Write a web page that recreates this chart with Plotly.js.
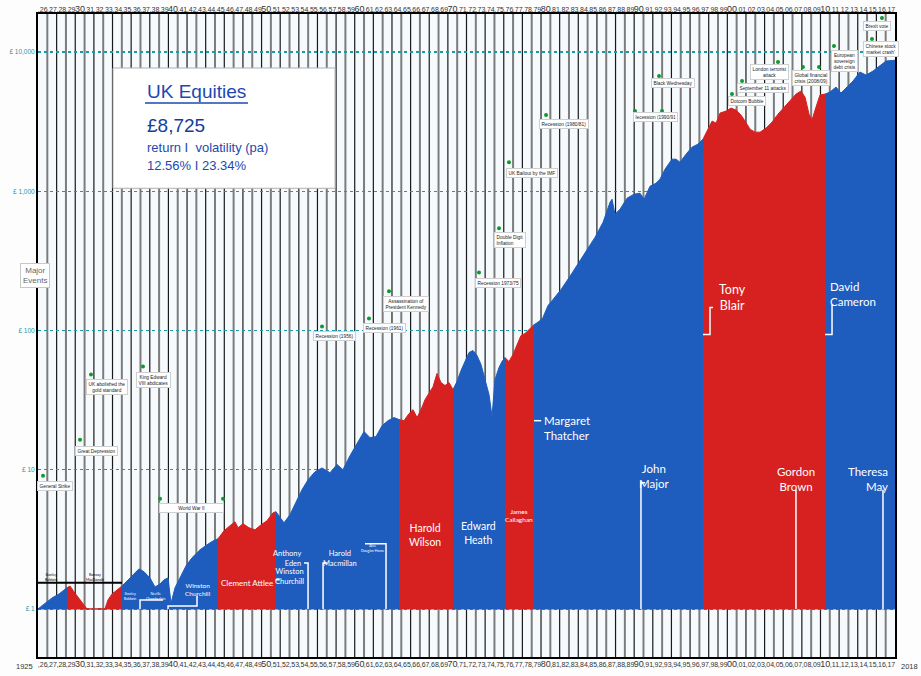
<!DOCTYPE html>
<html>
<head>
<meta charset="utf-8">
<script src="https://cdn.plot.ly/plotly-3.0.1.min.js"></script>
<style>
  html, body { margin: 0; padding: 0; background: #fdfdfd; }
  #chart { width: 921px; height: 676px; }
</style>
</head>
<body>
<div id="chart"></div>
<script>
// £1 invested in UK equities (year, value in £)
const years = [
  1926.00, 1926.75, 1927.50, 1928.25, 1929.11, 1929.44, 1929.86, 1930.29, 1930.83, 1931.26,
  1933.19, 1933.51, 1933.94, 1934.37, 1934.70, 1935.02, 1935.66, 1936.31, 1936.84, 1937.38,
  1938.02, 1938.56, 1939.10, 1939.53, 1939.96, 1940.28, 1940.71, 1941.24, 1941.89, 1942.53,
  1943.39, 1944.14, 1944.79, 1945.32, 1945.97, 1946.61, 1947.15, 1947.47, 1948.01, 1948.65,
  1949.30, 1949.94, 1950.58, 1951.23, 1951.55, 1951.98, 1952.41, 1953.05, 1953.70, 1954.34,
  1954.99, 1955.74, 1956.49, 1957.35, 1958.10, 1958.74, 1959.49, 1960.25, 1961.00, 1961.64,
  1962.29, 1962.93, 1963.57, 1964.22, 1964.76, 1965.29, 1965.83, 1966.26, 1966.69, 1967.12,
  1967.55, 1967.98, 1968.41, 1968.83, 1969.26, 1969.69, 1970.12, 1970.55, 1970.98, 1971.41,
  1971.84, 1972.27, 1972.70, 1973.13, 1973.56, 1973.99, 1974.42, 1974.74, 1975.06, 1975.49,
  1975.81, 1976.13, 1976.56, 1976.99, 1977.42, 1977.85, 1978.28, 1978.82, 1979.25, 1979.78,
  1980.21, 1980.75, 1981.29, 1982.15, 1983.11, 1983.97, 1984.94, 1985.80, 1986.66, 1987.41,
  1987.62, 1987.94, 1988.48, 1989.23, 1989.98, 1990.63, 1991.06, 1991.70, 1992.34, 1992.77,
  1993.31, 1994.06, 1994.49, 1994.92, 1995.57, 1996.21, 1996.85, 1997.39, 1997.93, 1998.36,
  1998.79, 1999.22, 1999.86, 2000.40, 2000.93, 2001.47, 2001.90, 2002.44, 2002.97, 2003.51,
  2004.15, 2004.80, 2005.44, 2006.09, 2006.73, 2007.37, 2007.91, 2008.34, 2008.77, 2009.09,
  2009.52, 2009.95, 2010.49, 2011.02, 2011.67, 2012.20, 2012.85, 2013.49, 2014.24, 2014.89,
  2015.64, 2016.28, 2017.04, 2018.00
];
const values = [
  1.00, 1.10, 1.20, 1.28, 1.42, 1.46, 1.33, 1.22, 1.09, 1.00,
  1.00, 1.16, 1.28, 1.35, 1.39, 1.46, 1.62, 1.79, 1.94, 1.85,
  1.67, 1.44, 1.51, 1.62, 1.67, 1.10, 1.42, 1.67, 2.04, 2.33,
  2.66, 2.89, 3.08, 3.19, 3.64, 3.96, 4.23, 3.83, 4.09, 3.83,
  3.70, 4.02, 4.30, 4.91, 4.99, 4.52, 4.16, 4.75, 5.79, 7.18,
  8.47, 9.67, 10.3, 9.51, 10.9, 10.0, 12.6, 15.6, 18.8, 17.0,
  17.3, 20.7, 22.5, 23.7, 22.9, 22.5, 25.3, 27.0, 23.7, 27.0,
  31.9, 35.8, 39.5, 49.1, 42.3, 40.2, 42.3, 37.6, 43.0, 51.6,
  59.8, 69.5, 71.8, 66.1, 56.9, 44.4, 34.6, 24.1, 44.4, 54.2,
  59.8, 63.9, 59.8, 67.2, 79.3, 92.0, 95.1, 103, 110, 116,
  124, 151, 167, 197, 245, 303, 383, 467, 598, 834,
  876, 683, 742, 891, 952, 968, 876, 1086, 1142, 1220,
  1439, 1699, 1699, 1617, 1846, 2073, 2179, 2366, 2793, 3190,
  3085, 3642, 3764, 3955, 3828, 3524, 3190, 2793, 2656, 2656,
  2838, 3133, 3580, 4020, 4437, 4984, 5240, 4742, 3580, 3243,
  4020, 4910, 4984, 5156, 5600, 5070, 5600, 6183, 7180, 6833,
  7295, 7929, 8614, 8725
];

// governing party periods
const termStarts = [1926, 1929.11, 1935.02, 1945.32, 1951.55, 1964.76, 1970.55, 1976.13, 1979.25, 1997.39, 2010.49];
const termEnds   = [1929.11, 1935.02, 1945.32, 1951.55, 1964.76, 1970.55, 1976.13, 1979.25, 1997.39, 2010.49, 2018];
const termParty  = ['con', 'lab', 'con', 'lab', 'con', 'lab', 'con', 'lab', 'con', 'lab', 'con'];
const partyColour = { con: '#1e5cbd', lab: '#d72020' };

// major events and their dates
const eventLabels = [
  'General Strike', 'Great Depression', 'UK abolished the<br>gold standard', 'King Edward<br>VIII abdicates',
  'World War II', 'Recession (1956)', 'Recession (1961)', 'Assassination of<br>President Kennedy',
  'Recession 1973/75', 'Double Digit<br>Inflation', 'UK Bailout by the IMF', 'Recession (1980/81)',
  'Recession (1990/91)', 'Black Wednesday', 'Dotcom Bubble', 'September 11 attacks',
  'London terrorist<br>attack', 'Global financial<br>crisis (2008/09)', 'European<br>sovereign<br>debt crisis',
  'Chinese stock<br>market crash\'', 'Brexit vote'
];
const eventDates = [
  [1926.54], [1930.51], [1931.69], [1937.27], [1939.10, 1945.86], [1956.49], [1961.53], [1963.68],
  [1973.34], [1975.49], [1976.56], [1980.54], [1990.09, 1992.99], [1992.67], [2000.50], [2001.58],
  [2005.44], [2008.12, 2009.84], [2011.45], [2015.53], [2016.60]
];
// where each event marker and its label box sit on the chart
const eventDotLevel = [9.06, 16.4, 48.2, 55.1, 6.19, 107, 122, 191, 261, 542, 1617, 3524, 3764, 6716, 4988, 6183, 8473, 7803, 11045, 12406, 17573];
const eventBoxAt = [
  [1927.83, 7.67], [1932.23, 13.7], [1933.41, 39.5], [1938.45, 44.4], [1942.53, 5.33], [1957.88, 92.0],
  [1963.25, 105], [1965.51, 154], [1975.38, 221], [1976.67, 444], [1979.03, 1347], [1982.47, 3033],
  [1992.34, 3406], [1994.17, 5982], [2002.11, 4437], [2003.83, 5509], [2004.48, 7180], [2008.98, 6502],
  [2012.63, 8614], [2016.50, 10515], [2016.07, 15380]
];

// prime minister labels (text, year, level, font size, anchor, colour)
const pmLabels = [
  ['Stanley<br>Baldwin', 1927.40, 1.67, 3.5, 'center', '#000'],
  ['Ramsay<br>MacDonald', 1932.12, 1.67, 3.5, 'center', '#000'],
  ['Stanley<br>Baldwin', 1935.88, 1.22, 3.5, 'center', '#fff'],
  ['Neville<br>Chamberlain', 1938.56, 1.22, 3.5, 'center', '#fff'],
  ['Winston<br>Churchill', 1943.18, 1.37, 6.5, 'center', '#fff'],
  ['Clement Attlee', 1948.44, 1.54, 8, 'center', '#fff'],
  ['Winston<br>Churchill', 1953.05, 1.70, 7.5, 'center', '#fff'],
  ['Anthony<br>Eden', 1954.45, 2.30, 7.5, 'right', '#fff'],
  ['Harold<br>Macmillan', 1958.42, 2.30, 7.5, 'center', '#fff'],
  ['Alec<br>Douglas-Home', 1961.96, 2.70, 3.5, 'center', '#fff'],
  ['Harold<br>Wilson', 1967.55, 3.41, 10.5, 'center', '#fff'],
  ['Edward<br>Heath', 1973.24, 3.52, 10.5, 'center', '#fff'],
  ['James<br>Callaghan', 1977.64, 4.67, 6.5, 'center', '#fff'],
  ['Margaret<br>Thatcher', 1980.11, 20.0, 11.5, 'left', '#fff'],
  ['John<br>Major', 1992.13, 9.06, 11.5, 'center', '#fff'],
  ['Tony<br>Blair', 2000.54, 173, 12.5, 'center', '#fff'],
  ['David<br>Cameron', 2010.81, 182, 11.5, 'left', '#fff'],
  ['Gordon<br>Brown', 2007.37, 8.62, 11.5, 'center', '#fff'],
  ['Theresa<br>May', 2017.47, 8.62, 11.5, 'right', '#fff']
];
// white leader lines from each label to the start of its term
const pmLeaders = [
  [[1936.95, 1.0], [1936.95, 1.16], [1939.42, 1.16]],
  [[1939.96, 1.0], [1939.96, 1.05], [1943.07, 1.05], [1943.07, 1.24]],
  [[1951.55, 1.62], [1951.95, 1.62]],
  [[1954.56, 2.14], [1954.99, 2.14], [1954.99, 1.0]],
  [[1956.60, 1.0], [1956.60, 2.14], [1957.03, 2.14]],
  [[1961.10, 2.94], [1963.36, 2.94], [1963.36, 1.0]],
  [[1979.25, 22.5], [1980.02, 22.5]],
  [[1990.73, 1.0], [1990.73, 8.06], [1991.16, 8.06]],
  [[1997.39, 93.6], [1998.14, 93.6], [1998.14, 146], [1998.46, 146]],
  [[2010.49, 93.6], [2011.24, 93.6], [2011.24, 154]],
  [[2007.37, 1.0], [2007.37, 7.18]],
  [[2016.71, 1.0], [2016.71, 7.18]]
];

const yTickVals = [1, 10, 100, 1000, 10000];
const yTickText = ['£ 1', '£ 10', '£ 100', '£ 1,000', '£ 10,000'];

const FONT = 'Arial, "Liberation Sans", sans-serif';
const PM_FONT = 'Lato, "Open Sans", sans-serif';
const TEAL = '#1b9aa6';

// year column labels ,26 ... ,17 (decades a little bigger)
const colYears = [];
for (let y = 1926; y < 2018; y++) colYears.push(y);
const colTickVals = colYears.map(y => y + 0.5);
const colTickText = colYears.map(y => {
  const s = String(y % 100).padStart(2, '0');
  return y % 10 === 0 ? `<span style="font-size:9px">${s}</span>` : ',' + s;
});

const traces = [];

// one filled band per government
termStarts.forEach((start, i) => {
  const end = termEnds[i];
  const xs = [], ys = [];
  years.forEach((yr, k) => {
    if (yr >= start - 1e-6 && yr <= end + 1e-6) { xs.push(yr); ys.push(values[k]); }
  });
  const col = partyColour[termParty[i]];
  traces.push({
    x: xs.concat([end, start]),
    y: ys.concat([1, 1]),
    type: 'scatter', mode: 'lines', fill: 'toself',
    fillcolor: col, line: { color: col, width: 1 },
    hoverinfo: 'skip', showlegend: false
  });
});

// black line over the first two terms
traces.push({
  x: [1926, 1935.02], y: [1.54, 1.54], type: 'scatter', mode: 'lines',
  line: { color: '#000', width: 2 }, hoverinfo: 'skip', showlegend: false
});

// white leader lines
const lx = [], ly = [];
pmLeaders.forEach(path => {
  path.forEach(p => { lx.push(p[0]); ly.push(p[1]); });
  lx.push(null); ly.push(null);
});
traces.push({
  x: lx, y: ly, type: 'scatter', mode: 'lines',
  line: { color: '#ffffff', width: 1.5 }, hoverinfo: 'skip', showlegend: false
});

// event markers
const ex = [], ey = [];
eventDates.forEach((dates, i) => dates.forEach(d => { ex.push(d); ey.push(eventDotLevel[i]); }));
traces.push({
  x: ex, y: ey, type: 'scatter', mode: 'markers',
  marker: { color: '#0b9a2c', size: 4 }, hoverinfo: 'skip', showlegend: false
});
// the two dots beside the "Major Events" key
traces.push({
  x: [1925.36, 1925.36], y: [270, 253], type: 'scatter', mode: 'markers', cliponaxis: false,
  marker: { color: '#0b9a2c', size: 3 }, hoverinfo: 'skip', showlegend: false
});

// dummy trace so the top axis is drawn
traces.push({ x: [1926, 2018], y: [1, 1], xaxis: 'x2', type: 'scatter', mode: 'none', hoverinfo: 'skip', showlegend: false });

// vertical year lines
const shapes = [];
for (let y = 1927; y < 2018; y++) {
  const dark = (y % 2 === 0);
  shapes.push({
    type: 'line', layer: 'below', xref: 'x', yref: 'paper',
    x0: y, x1: y, y0: 0, y1: 1,
    line: { color: dark ? '#1a1a1a' : '#7c7c7c', width: dark ? 1.2 : 2 }
  });
}
// title card
shapes.push({
  type: 'rect', layer: 'below', xref: 'paper', yref: 'paper',
  x0: 0.0875, x1: 0.3466, y0: 0.729, y1: 0.916,
  fillcolor: '#ffffff', line: { color: '#b0b0b0', width: 1 }
});
shapes.push({
  type: 'line', xref: 'paper', yref: 'paper',
  x0: 0.1249, x1: 0.245, y0: 0.8616, y1: 0.8616,
  line: { color: '#1d48b0', width: 1.5 }
});

const annotations = [];

// title card text
const card = [
  ['UK Equities', 0.879, 19, '#1d48b0'],
  ['£8,725', 0.827, 19, '#153c9c'],
  ['return I  volatility (pa)', 0.793, 13, '#1d48b0'],
  ['12.56% I 23.34%', 0.764, 13, '#1d48b0']
];
card.forEach(c => annotations.push({
  xref: 'paper', yref: 'paper', x: 0.1249, y: c[1], xanchor: 'left', yanchor: 'middle',
  text: c[0], showarrow: false, font: { family: FONT, size: c[2], color: c[3] }
}));

// event boxes
eventLabels.forEach((t, i) => {
  const a = {
    x: eventBoxAt[i][0], y: Math.log10(eventBoxAt[i][1]), text: t, showarrow: false,
    font: { family: FONT, size: 4.8, color: '#222' },
    bgcolor: '#ffffff', bordercolor: '#cfcfcf', borderwidth: 1, borderpad: 1.5,
    align: t.startsWith('Double') ? 'left' : 'center'
  };
  if (t === 'World War II') a.width = 60;
  if (t.startsWith('Recession (1990')) a.width = 40;
  annotations.push(a);
});

// prime minister labels
pmLabels.forEach(p => annotations.push({
  x: p[1], y: Math.log10(p[2]), text: p[0], showarrow: false,
  xanchor: p[4], align: p[4],
  font: { family: PM_FONT, size: p[3], color: p[5] }
}));

// "Major Events" key
annotations.push({
  xref: 'paper', yref: 'paper', x: -0.0215, y: 0.594, text: 'Major<br>Events', showarrow: false,
  font: { family: FONT, size: 8, color: '#666' }, bgcolor: '#ffffff',
  bordercolor: '#c8c8c8', borderwidth: 1, borderpad: 2
});

// end years
annotations.push({
  xref: 'paper', yref: 'paper', x: 0, y: 0, xanchor: 'right', yanchor: 'top', yshift: -3, xshift: -3,
  text: '1925', showarrow: false, font: { family: FONT, size: 7.5, color: '#333' }
});
annotations.push({
  xref: 'paper', yref: 'paper', x: 1, y: 0, xanchor: 'left', yanchor: 'top', yshift: -3, xshift: 4,
  text: '2018', showarrow: false, font: { family: FONT, size: 7.5, color: '#333' }
});

const layout = {
  width: 921, height: 676,
  margin: { l: 38, r: 26, t: 14, b: 19 },
  paper_bgcolor: '#fdfdfd',
  plot_bgcolor: '#f6fafd',
  showlegend: false,
  xaxis: {
    range: [1926, 2018], showgrid: false, zeroline: false,
    tickvals: colTickVals, ticktext: colTickText, ticks: '', tickangle: 0,
    tickfont: { family: FONT, size: 7, color: '#333' },
    showline: true, linecolor: '#000', linewidth: 2, mirror: true
  },
  xaxis2: {
    overlaying: 'x', side: 'top', range: [1926, 2018], matches: 'x',
    showgrid: false, zeroline: false, showline: false,
    tickvals: colTickVals, ticktext: colTickText, ticks: '', tickangle: 0,
    tickfont: { family: FONT, size: 7, color: '#333' }
  },
  yaxis: {
    type: 'log', range: [-0.345, 4.273],
    tickvals: yTickVals, ticktext: yTickText, ticks: '',
    tickfont: { family: FONT, size: 6.5, color: TEAL },
    showgrid: true, gridcolor: TEAL, gridwidth: 1.3, griddash: '3px,3px',
    zeroline: false, showline: true, linecolor: '#000', linewidth: 2, mirror: true
  },
  shapes: shapes,
  annotations: annotations
};

Plotly.newPlot('chart', traces, layout, { displayModeBar: false, staticPlot: true });
</script>
</body>
</html>
